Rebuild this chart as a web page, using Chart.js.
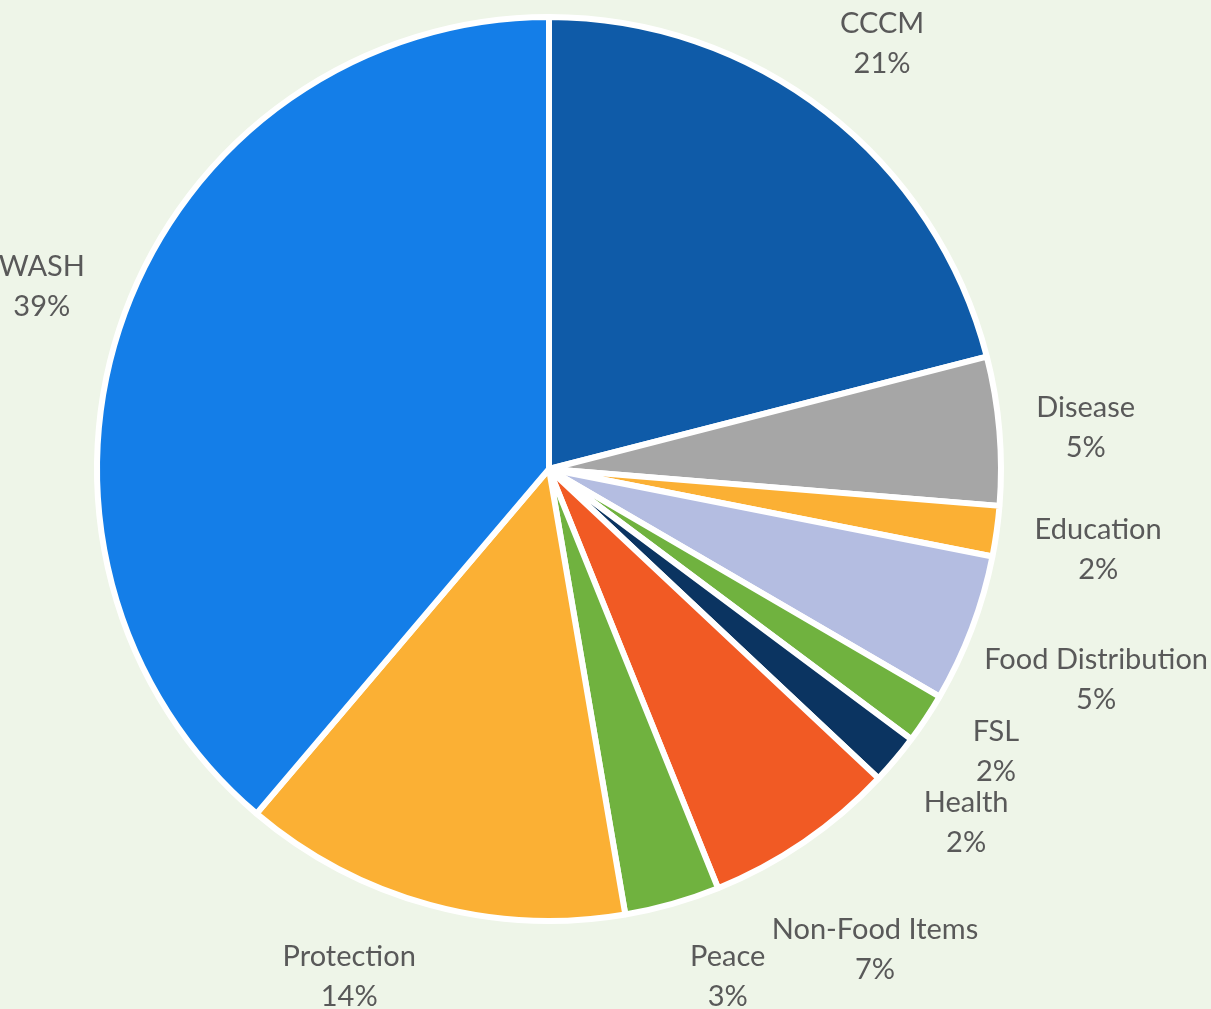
<!DOCTYPE html>
<html>
<head>
<meta charset="utf-8">
<title>Share by sector</title>
<script src="https://cdn.jsdelivr.net/npm/chart.js@4/dist/chart.umd.min.js"></script>
<style>
  html, body { margin: 0; padding: 0; background: #eef5e8; }
  canvas { display: block; }
</style>
</head>
<body>
<canvas id="pie" width="1211" height="1009"></canvas>
<script>
// ── Data (clockwise from 12 o'clock) ─────────────────────────────────────────
const categories = ['CCCM', 'Disease', 'Education', 'Food Distribution', 'FSL',
                    'Health', 'Non-Food Items', 'Peace', 'Protection', 'WASH'];
const shares     = [21.0, 5.3, 1.8, 5.3, 1.8, 1.8, 6.9, 3.4, 13.9, 38.8];
const colors     = ['#0f5ba8', '#a6a6a6', '#fbb034', '#b4bde1', '#70b23f',
                    '#0b3461', '#f15a24', '#70b23f', '#fbb034', '#147ee8'];

const FONT  = '29px Lato, "Open Sans", sans-serif';
const LINE  = 40;   // label line pitch
const GAP   = 34;   // distance between pie edge and label box
const TEXTH = 26;   // visual height of one text line, for overlap tests
const TEXTDY = 4;   // baseline nudge so Lato sits like the original Calibri

// Excel-style "outside end" labels: box touches a ring around the pie,
// slid along the ring when it would leave the canvas or hit a neighbour.
const outsideLabels = {
  id: 'outsideLabels',
  afterDatasetsDraw(chart) {
    const { ctx } = chart;
    const meta  = chart.getDatasetMeta(0);
    const total = shares.reduce((a, b) => a + b, 0);
    ctx.save();
    ctx.font = FONT;

    const boxes = meta.data.map((arc, i) => {
      const { x, y, startAngle, endAngle, outerRadius } =
        arc.getProps(['x', 'y', 'startAngle', 'endAngle', 'outerRadius'], true);
      const lines = [categories[i], Math.round(shares[i] / total * 100) + '%'];
      const w  = Math.max(...lines.map(l => ctx.measureText(l).width));
      const hl = LINE * lines.length;                  // layout height
      const h  = LINE * (lines.length - 1) + TEXTH;    // ink height
      const place = ang => {
        const dx = Math.cos(ang), dy = Math.sin(ang);
        const d = outerRadius + GAP + Math.abs(dx) * w / 2 + Math.abs(dy) * hl / 2;
        let cx = x + d * dx, cy = y + d * dy;
        const maxX = chart.width - w / 2 - 3;
        const maxY = chart.height - 36;
        if (cy > maxY) {
          const a = Math.acos(Math.min(1, (maxY - y) / d));
          cy = maxY;
          cx = x + Math.sign(dx) * d * Math.sin(a);
        }
        if (cx > maxX) {
          cy = y + d * dy * (maxX - x) / (d * dx);
          cx = maxX;
        }
        return { cx, cy };
      };
      const ang = (startAngle + endAngle) / 2;
      return { lines, w, h, ang, place, ...place(ang) };
    });

    // walk back up the right side: a label that hits the one below it
    // is slid counter-clockwise until they clear
    const hit = (a, b) => Math.abs(a.cx - b.cx) < (a.w + b.w) / 2 + 4 &&
                          Math.abs(a.cy - b.cy) < (a.h + b.h) / 2 + 4;
    for (let i = boxes.length - 2; i >= 0; i--) {
      const b = boxes[i];
      let n = 0;
      while (hit(b, boxes[i + 1]) && n++ < 90) {
        b.ang -= Math.PI / 360;
        Object.assign(b, b.place(b.ang));
      }
    }

    ctx.fillStyle = '#595959';
    ctx.textAlign = 'center';
    ctx.textBaseline = 'middle';
    boxes.forEach(b => {
      b.lines.forEach((l, j) =>
        ctx.fillText(l, b.cx, b.cy + TEXTDY + (j - (b.lines.length - 1) / 2) * LINE));
    });
    ctx.restore();
  },
};

new Chart(document.getElementById('pie'), {
  type: 'pie',
  data: {
    labels: categories,
    datasets: [{
      data: shares,
      backgroundColor: colors,
      borderColor: '#ffffff',
      borderWidth: 6,
    }],
  },
  options: {
    responsive: false,
    animation: false,
    layout: { padding: { left: 94, top: 14, right: 207, bottom: 85 } },
    plugins: {
      legend: { display: false },
      tooltip: { enabled: false },
    },
  },
  plugins: [outsideLabels],
});
</script>
</body>
</html>
